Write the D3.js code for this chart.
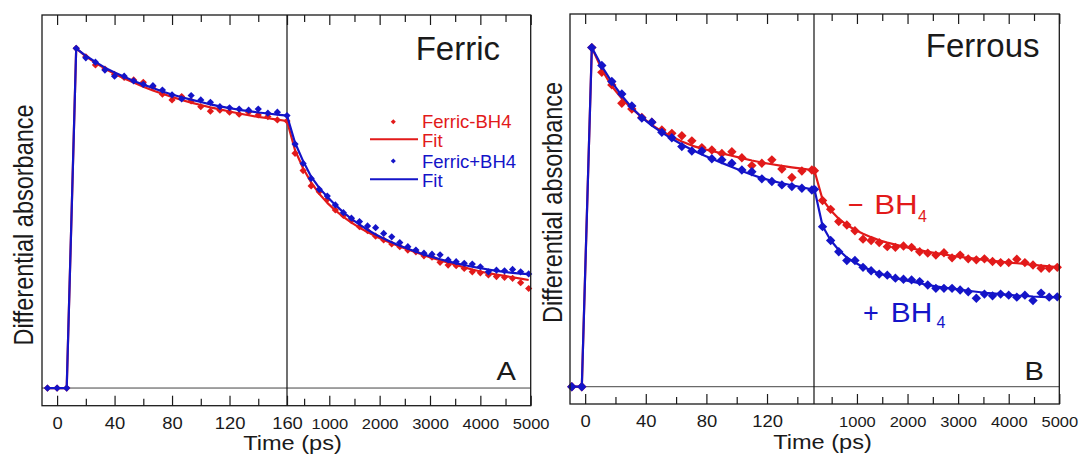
<!DOCTYPE html>
<html><head><meta charset="utf-8">
<script src="https://cdn.jsdelivr.net/npm/d3@7"></script>
<style>
html,body{margin:0;padding:0;background:#fff;}
svg{display:block;font-family:"Liberation Sans",Arial,Helvetica,sans-serif;}
</style>
</head><body>
<svg id="c" width="1081" height="456"></svg>
<script>
// ---------------- DATA ----------------
const timesA = [-6.7,0,6.7,13.3,20,26.7,33.3,40,46.7,53.3,60,66.7,73.3,80,86.7,93.3,100,106.7,113.3,120,126.7,133.3,140,146.7,153.3,160,
  320,480,640,800,960,1120,1280,1440,1600,1760,1920,2080,2240,2400,2560,2720,2880,3040,3200,3360,3520,3680,3840,4000,4160,4320,4480,4640,4800,4960];
const ferricMinusBH4 = [0,0,0,1.0,0.975,0.951,0.939,0.923,0.914,0.907,0.900,0.887,0.865,0.848,0.858,0.845,0.828,0.815,0.818,0.812,0.806,0.812,0.804,0.799,0.789,0.786,
  0.691,0.640,0.595,0.578,0.555,0.524,0.508,0.493,0.475,0.463,0.447,0.436,0.424,0.416,0.406,0.401,0.389,0.385,0.370,0.362,0.360,0.352,0.342,0.339,0.333,0.328,0.326,0.323,0.310,0.293];
const ferricMinusFit = [0,0,0,1.0,0.976,0.957,0.940,0.925,0.911,0.899,0.887,0.876,0.866,0.857,0.848,0.840,0.833,0.826,0.820,0.814,0.808,0.803,0.798,0.794,0.790,0.786,
  0.700,0.647,0.605,0.572,0.545,0.523,0.504,0.487,0.472,0.459,0.447,0.436,0.426,0.417,0.408,0.400,0.391,0.383,0.376,0.369,0.362,0.355,0.349,0.343,0.338,0.334,0.330,0.326,0.322,0.318];
const ferricPlusBH4 = [0,0,0,1.0,0.972,0.959,0.936,0.918,0.918,0.904,0.894,0.890,0.877,0.863,0.851,0.861,0.848,0.841,0.828,0.825,0.821,0.818,0.821,0.809,0.812,0.802,
  0.718,0.661,0.617,0.585,0.565,0.539,0.516,0.500,0.490,0.477,0.472,0.455,0.445,0.428,0.416,0.406,0.397,0.394,0.392,0.377,0.372,0.367,0.365,0.357,0.342,0.347,0.345,0.349,0.342,0.336];
const ferricPlusFit = [0,0,0,1.0,0.978,0.960,0.943,0.929,0.916,0.904,0.893,0.883,0.873,0.864,0.856,0.849,0.842,0.835,0.829,0.824,0.819,0.815,0.811,0.808,0.805,0.802,
  0.722,0.668,0.622,0.589,0.563,0.539,0.517,0.498,0.481,0.466,0.452,0.440,0.429,0.419,0.410,0.401,0.393,0.386,0.379,0.373,0.367,0.362,0.357,0.353,0.349,0.345,0.342,0.339,0.337,0.335];

const timesB = [-8.8,-2.2,4.4,11,17.6,24.2,30.8,37.4,44,50.6,57.2,63.8,70.4,77,83.6,90.2,96.8,103.4,110,116.6,123.2,129.8,136.4,143,149.6,
  160,320,480,640,800,960,1120,1280,1440,1600,1760,1920,2080,2240,2400,2560,2720,2880,3040,3200,3360,3520,3680,3840,4000,4160,4320,4480,4640,4800,4960];
const ferrousMinusBH4 = [0,0,1.0,0.927,0.890,0.836,0.819,0.794,0.780,0.757,0.747,0.740,0.725,0.705,0.698,0.688,0.693,0.675,0.652,0.659,0.669,0.642,0.617,0.636,0.639,
  0.637,0.549,0.523,0.487,0.477,0.460,0.435,0.431,0.425,0.413,0.411,0.415,0.411,0.398,0.394,0.388,0.395,0.380,0.388,0.377,0.374,0.377,0.369,0.366,0.366,0.376,0.366,0.359,0.349,0.349,0.352];
const ferrousMinusFit = [0,0,1.0,0.935,0.886,0.850,0.820,0.795,0.772,0.753,0.737,0.723,0.711,0.702,0.695,0.688,0.681,0.674,0.667,0.661,0.656,0.651,0.647,0.643,0.639,
  0.637,0.552,0.520,0.495,0.477,0.463,0.451,0.441,0.432,0.425,0.419,0.413,0.408,0.403,0.398,0.394,0.390,0.386,0.383,0.380,0.377,0.374,0.371,0.369,0.366,0.364,0.362,0.359,0.357,0.355,0.353];
const ferrousPlusBH4 = [0,0,1.0,0.947,0.900,0.863,0.828,0.792,0.780,0.750,0.734,0.708,0.695,0.695,0.672,0.669,0.659,0.639,0.634,0.613,0.605,0.595,0.590,0.585,0.580,
  0.582,0.472,0.431,0.398,0.372,0.372,0.352,0.342,0.332,0.329,0.320,0.317,0.315,0.310,0.300,0.290,0.290,0.290,0.285,0.280,0.261,0.273,0.268,0.273,0.270,0.264,0.270,0.254,0.276,0.264,0.265];
const ferrousPlusFit = [0,0,1.0,0.945,0.898,0.858,0.823,0.794,0.770,0.750,0.731,0.714,0.699,0.685,0.672,0.660,0.648,0.636,0.625,0.615,0.607,0.600,0.594,0.588,0.582,
  0.582,0.474,0.432,0.403,0.381,0.366,0.353,0.343,0.334,0.327,0.320,0.315,0.310,0.305,0.300,0.296,0.292,0.289,0.286,0.283,0.280,0.277,0.275,0.273,0.271,0.269,0.268,0.266,0.265,0.264,0.263];

const majorLeftA = [0,40,80,120,160];
const majorLeftB = [0,40,80,120];
const minorLeft = [20,60,100,140];
const majorRight = [1000,2000,3000,4000,5000];
const minorRight = [500,1500,2500,3500,4500];
const legendLabels = ["Ferric-BH4","Fit","Ferric+BH4","Fit"];
const titles = ["Ferric","Ferrous"];
const panelLetters = ["A","B"];
const xTitle = "Time (ps)";
const yTitle = "Differential absorbance";

// ---------------- STYLE / LAYOUT ----------------
const RED = "#e21a1a", BLUE = "#1414c8", INK = "#1a1a1a";
const svg = d3.select("#c");

const panels = [
  { times: timesA, red: ferricMinusBH4, redFit: ferricMinusFit, blue: ferricPlusBH4, blueFit: ferricPlusFit,
    x0: 42, x1: 530.7, y0: 15, y1: 405.7, xDomain: [-10.5, 160, 5000], breakX: 287, yDomain: [-0.052, 1.098],
    majorLeft: majorLeftA, markerSize: 26, title: titles[0], titleX: 500, titleY: 60, letter: panelLetters[0], letterX: 516, letterY: 380,
    xTitleX: 292.5, xTitleY: 449.5, yTitleX: 33, yTitleY: 225, lblOff: 23.3 },
  { times: timesB, red: ferrousMinusBH4, redFit: ferrousMinusFit, blue: ferrousPlusBH4, blueFit: ferrousPlusFit,
    x0: 570, x1: 1059.3, y0: 14, y1: 404, xDomain: [-10, 151, 5000], breakX: 814, yDomain: [-0.051, 1.099],
    majorLeft: majorLeftB, markerSize: 44, title: titles[1], titleX: 1039.5, titleY: 57, letter: panelLetters[1], letterX: 1044, letterY: 380,
    xTitleX: 822.5, xTitleY: 449, yTitleX: 561.7, yTitleY: 202.5, lblOff: 23 }
];

function diamond(size) { return d3.symbol().type(d3.symbolSquare).size(size)(); }

panels.forEach(p => {
  const g = svg.append("g");
  const x = d3.scaleLinear().domain(p.xDomain).range([p.x0, p.breakX, p.x1]);
  const y = d3.scaleLinear().domain(p.yDomain).range([p.y1, p.y0]);

  // zero line
  g.append("line").attr("x1", p.x0).attr("x2", p.x1).attr("y1", y(0)).attr("y2", y(0))
    .attr("stroke", "#444").attr("stroke-width", 1);
  // break line
  g.append("line").attr("x1", p.breakX).attr("x2", p.breakX).attr("y1", p.y0).attr("y2", p.y1)
    .attr("stroke", "#111").attr("stroke-width", 1.2);

  // ticks (inward, top and bottom)
  function ticks(vals, len) {
    const b = g.append("g").attr("transform", `translate(0,${p.y1})`)
      .call(d3.axisBottom(x).tickValues(vals).tickSize(-len).tickFormat(""));
    const t = g.append("g").attr("transform", `translate(0,${p.y0})`)
      .call(d3.axisTop(x).tickValues(vals).tickSize(-len).tickFormat(""));
    [b, t].forEach(a => { a.select(".domain").remove(); a.selectAll("line").attr("stroke", INK).attr("stroke-width", 1.2); });
  }
  ticks(p.majorLeft, 10); ticks(minorLeft, 7); ticks(majorRight, 10); ticks(minorRight, 7);

  // tick labels
  function labels(vals, fs, sx) {
    const a = g.append("g").attr("transform", `translate(0,${p.y1})`)
      .call(d3.axisBottom(x).tickValues(vals).tickSize(0).tickFormat(d => String(d)));
    a.select(".domain").remove(); a.selectAll("line").remove();
    a.attr("font-size", null).attr("font-family", null);
    a.selectAll("text").attr("y", p.lblOff).attr("dy", null).attr("font-size", fs)
      .attr("fill", INK).attr("transform", `scale(${sx},1)`);
  }
  labels(p.majorLeft, 15.6, 1.18);
  labels(majorRight, 14.6, 1.13);

  // series
  const pts = (vals) => p.times.map((t, i) => ({ t, v: vals[i] }));
  const line = d3.line().x(d => x(d.t)).y(d => y(d.v));
  function markers(vals, color) {
    g.append("g").selectAll("path").data(pts(vals)).join("path")
      .attr("d", diamond(p.markerSize))
      .attr("transform", d => `translate(${x(d.t)},${y(d.v)}) rotate(45)`)
      .attr("fill", color);
  }
  function fit(vals, color) {
    g.append("path").datum(pts(vals)).attr("d", line).attr("fill", "none")
      .attr("stroke", color).attr("stroke-width", 2.2).attr("stroke-linejoin", "round");
  }
  fit(p.redFit, RED); markers(p.red, RED);
  fit(p.blueFit, BLUE); markers(p.blue, BLUE);

  // frame
  g.append("rect").attr("x", p.x0).attr("y", p.y0).attr("width", p.x1 - p.x0).attr("height", p.y1 - p.y0)
    .attr("fill", "none").attr("stroke", INK).attr("stroke-width", 1.3);

  // texts
  g.append("text").attr("x", p.titleX).attr("y", p.titleY).attr("text-anchor", "end")
    .attr("font-size", 33).attr("fill", INK).text(p.title);
  g.append("text").attr("transform", `translate(${p.letterX},${p.letterY}) scale(1.12,1)`).attr("text-anchor", "end")
    .attr("font-size", 26).attr("fill", INK).text(p.letter);
  g.append("text").attr("transform", `translate(${p.xTitleX},${p.xTitleY}) scale(1.15,1)`).attr("text-anchor", "middle")
    .attr("font-size", 20.5).attr("fill", INK).text(xTitle);
  g.append("text").attr("transform", `translate(${p.yTitleX},${p.yTitleY}) scale(1.15,1) rotate(-90)`).attr("text-anchor", "middle")
    .attr("font-size", 23.5).attr("fill", INK).text(yTitle);
});

// legend (panel A)
const leg = svg.append("g");
const legRows = [
  { label: legendLabels[0], color: RED, kind: "marker", cy: 121.7, base: 128.3 },
  { label: legendLabels[1], color: RED, kind: "line", cy: 139.3, base: 146.7 },
  { label: legendLabels[2], color: BLUE, kind: "marker", cy: 161, base: 168.3 },
  { label: legendLabels[3], color: BLUE, kind: "line", cy: 179.3, base: 187.3 }
];
legRows.forEach(r => {
  if (r.kind === "marker") {
    leg.append("path").attr("d", diamond(13)).attr("transform", `translate(393.3,${r.cy}) rotate(45)`).attr("fill", r.color);
  } else {
    leg.append("line").attr("x1", 370).attr("x2", 418).attr("y1", r.cy).attr("y2", r.cy)
      .attr("stroke", r.color).attr("stroke-width", 2);
  }
  leg.append("text").attr("x", 422).attr("y", r.base).attr("font-size", 18.5).attr("fill", r.color).text(r.label);
});

// panel B inline labels
const bm = svg.append("text").attr("fill", RED).attr("font-size", 27);
bm.append("tspan").attr("x", 848).attr("y", 214).text("\u2212");
bm.append("tspan").attr("x", 874.2).attr("y", 214).attr("textLength", 43.5).attr("lengthAdjust", "spacingAndGlyphs").text("BH");
bm.append("tspan").attr("x", 918).attr("y", 221.7).attr("font-size", 16).text("4");
const bp = svg.append("text").attr("fill", BLUE).attr("font-size", 27);
bp.append("tspan").attr("x", 863).attr("y", 321.7).text("+");
bp.append("tspan").attr("x", 890.8).attr("y", 321.7).attr("textLength", 41.5).attr("lengthAdjust", "spacingAndGlyphs").text("BH");
bp.append("tspan").attr("x", 936.5).attr("y", 328.3).attr("font-size", 16).text("4");
</script>
</body></html>
